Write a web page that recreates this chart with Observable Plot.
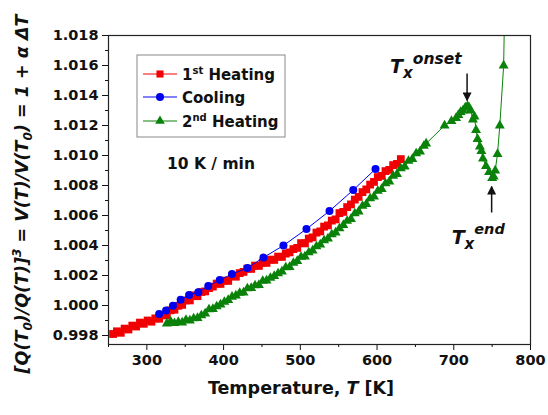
<!DOCTYPE html>
<html><head><meta charset="utf-8">
<script src="https://cdn.jsdelivr.net/npm/d3@7"></script>
<script src="https://cdn.jsdelivr.net/npm/@observablehq/plot@0.6"></script>
<style>body{margin:0;background:#fff}</style>
</head><body><div id="chart"></div>
<script>
// ---- data ----
const heat1T = [256,261,266,271,276,281,286,291,296,301,306,311,316,321,326,331,336,341,346,351,356,361,366,371,376,381,386,391,396,401,406,411,416,421,426,431,436,441,446,451,456,461,466,471,476,481,486,491,496,501,506,511,516,521,526,531,536,541,546,551,556,561,566,571,576,581,586,591,596,601,606,611,616,621,626,631];
const heat1V = [0.99810,0.99828,0.99818,0.99846,0.99840,0.99866,0.99860,0.99886,0.99878,0.99900,0.99892,0.99914,0.99912,0.99938,0.99934,0.99968,0.99972,0.99998,1.00004,1.00034,1.00034,1.00068,1.00062,1.00090,1.00094,1.00116,1.00126,1.00146,1.00144,1.00166,1.00164,1.00196,1.00192,1.00216,1.00224,1.00246,1.00244,1.00266,1.00264,1.00286,1.00284,1.00306,1.00304,1.00326,1.00324,1.00346,1.00354,1.00376,1.00384,1.00416,1.00414,1.00446,1.00454,1.00486,1.00494,1.00526,1.00534,1.00566,1.00574,1.00616,1.00624,1.00656,1.00674,1.00706,1.00724,1.00756,1.00774,1.00806,1.00824,1.00856,1.00864,1.00896,1.00904,1.00936,1.00944,1.00976];

const coolT = [316,325,334,344,355,367,380,395,411,431,452,478,508,538,569,598];
const coolV = [0.99944,0.99966,0.99999,1.00039,1.00070,1.00088,1.00130,1.00170,1.00210,1.00250,1.00320,1.00400,1.00510,1.00630,1.00770,1.00910];

const heat2T = [326,331,336,341,346,351,356,361,366,371,376,381,386,391,396,401,406,411,416,421,426,431,436,441,446,451,456,461,466,471,476,481,486,491,496,501,506,511,516,521,526,531,536,541,546,551,556,561,566,571,576,581,586,591,596,601,606,611,616,621,626,631,636,641,646,651,656,661,664,688,697,703,706,709,712,715,718,720,722,725,727,729,731,734,736,738,742,746,750,752,754,757,760,765,768];
const heat2V = [0.99880,0.99894,0.99882,0.99890,0.99886,0.99904,0.99900,0.99914,0.99916,0.99934,0.99946,0.99974,0.99976,0.99994,1.00006,1.00024,1.00036,1.00058,1.00066,1.00084,1.00086,1.00114,1.00116,1.00134,1.00136,1.00164,1.00166,1.00184,1.00196,1.00214,1.00226,1.00254,1.00256,1.00284,1.00296,1.00324,1.00326,1.00354,1.00366,1.00394,1.00406,1.00434,1.00446,1.00474,1.00486,1.00514,1.00536,1.00564,1.00576,1.00614,1.00626,1.00664,1.00676,1.00714,1.00726,1.00764,1.00776,1.00814,1.00826,1.00864,1.00876,1.00914,1.00926,1.00964,1.00976,1.01014,1.01026,1.01064,1.01080,1.01200,1.01230,1.01250,1.01270,1.01290,1.01300,1.01320,1.01330,1.01320,1.01300,1.01240,1.01260,1.01170,1.01110,1.01060,1.01030,1.00980,1.00930,1.00890,1.00850,1.00860,1.00900,1.01010,1.01200,1.01600,1.02500];

const xTicks = [300,400,500,600,700,800];
const xMinor = [250,350,450,550,650,750];
const yTicks = [0.998,1.000,1.002,1.004,1.006,1.008,1.010,1.012,1.014,1.016,1.018];
const yMinor = [0.999,1.001,1.003,1.005,1.007,1.009,1.011,1.013,1.015,1.017];

const seriesNames = ["1st Heating","Cooling","2nd Heating"];
const colors = ["#f00000","#0000f0","#0a820a"];
const onsetT = 718, onsetV = 1.0133;
const endT = 750, endV = 1.0085;

const heat1 = heat1T.map((t,i)=>({T:t,V:heat1V[i]}));
const cool = coolT.map((t,i)=>({T:t,V:coolV[i]}));
const heat2 = heat2T.map((t,i)=>({T:t,V:heat2V[i]}));

const FONT = "DejaVu Sans";
const R = {sq: 4.4, ci: 4.0, tr: 3.7};
const plot = Plot.plot({
  width: 548, height: 415,
  marginLeft: 108, marginRight: 18, marginTop: 35, marginBottom: 71,
  style: {fontFamily: FONT, fontWeight: "bold", fontSize: "14.5px", color: "#111", background: "#fff"},
  x: {domain: [250, 800], label: null},
  y: {domain: [0.9974, 1.018], label: null},
  marks: [
    Plot.axisX(xTicks, {tickSize: 6, tickPadding: 4, label: null, tickFormat: d => String(d)}),
    Plot.axisX(xMinor, {tickSize: 3, fill: "none", label: null}),
    Plot.axisY(yTicks, {tickSize: 6, tickPadding: 4, label: null, tickFormat: d3.format(".3f")}),
    Plot.axisY(yMinor, {tickSize: 3, fill: "none", label: null}),
    Plot.line(heat1, {x: "T", y: "V", stroke: colors[0], strokeWidth: 1, clip: true}),
    Plot.dot(heat1, {x: "T", y: "V", symbol: "square", r: R.sq, fill: colors[0], clip: true}),
    Plot.line(heat2, {x: "T", y: "V", stroke: colors[2], strokeWidth: 1, clip: true}),
    Plot.dot(heat2, {x: "T", y: "V", symbol: "triangle", r: R.tr, fill: colors[2], clip: true}),
    Plot.line(cool, {x: "T", y: "V", stroke: colors[1], strokeWidth: 1, clip: true}),
    Plot.dot(cool, {x: "T", y: "V", symbol: "circle", r: R.ci, fill: colors[1], clip: true}),
    Plot.frame({stroke: "#222", strokeWidth: 1.2})
  ]
});
document.getElementById("chart").append(plot);

const svg = d3.select(plot);
const xs = plot.scale("x"), ys = plot.scale("y");
const X = v => xs.apply(v), Y = v => ys.apply(v);

svg.append("defs").append("marker")
  .attr("id","ah").attr("viewBox","0 0 10 10").attr("refX",9).attr("refY",5)
  .attr("markerWidth",6).attr("markerHeight",6).attr("orient","auto-start-reverse")
  .append("path").attr("d","M0,0L10,5L0,10z").attr("fill","#111");

// axis titles
const xl = svg.append("text").attr("x", 301).attr("y", 394).attr("text-anchor","middle")
  .attr("font-family", FONT).attr("font-weight","bold").attr("font-size", 17.5).attr("fill","#111");
xl.append("tspan").text("Temperature, ");
xl.append("tspan").attr("font-style","italic").text("T");
xl.append("tspan").text(" [K]");

const yl = svg.append("text").attr("transform","translate(28,194) rotate(-90)").attr("text-anchor","middle")
  .attr("font-family", FONT).attr("font-weight","bold").attr("font-style","italic").attr("font-size", 17.5).attr("fill","#111");
yl.append("tspan").text("[Q(T");
yl.append("tspan").attr("font-size",12).attr("dy",4).text("0");
yl.append("tspan").attr("dy",-4).text(")/Q(T)]");
yl.append("tspan").attr("font-size",12).attr("dy",-7).text("3");
yl.append("tspan").attr("dy",7).text(" = V(T)/V(T");
yl.append("tspan").attr("font-size",12).attr("dy",4).text("0");
yl.append("tspan").attr("dy",-4).text(") = 1 + α ΔT");

// rate label
svg.append("text").attr("x",167).attr("y",169).attr("text-anchor","start").attr("font-family",FONT).attr("font-weight","bold")
  .attr("font-size",15.5).attr("fill","#111").text("10 K / min");

// legend
const lg = svg.append("g").attr("text-anchor","start");
lg.append("rect").attr("x",137).attr("y",55).attr("width",148).attr("height",82)
  .attr("fill","#fff").attr("stroke","#888").attr("stroke-width",1);
const rowsY = [74, 97, 121];
const sym = [d3.symbolSquare, d3.symbolCircle, d3.symbolTriangle];
const sizes = [4.0, 4.0, 3.6];
seriesNames.forEach((name,i)=>{
  const yy = rowsY[i];
  lg.append("line").attr("x1",143).attr("x2",177).attr("y1",yy).attr("y2",yy).attr("stroke",colors[i]).attr("stroke-width",1);
  lg.append("path").attr("transform",`translate(160,${yy})`)
    .attr("d", d3.symbol(sym[i], Math.PI*sizes[i]*sizes[i])()).attr("fill",colors[i]);
  const t = lg.append("text").attr("x",182).attr("y",yy+5.5).attr("font-family",FONT).attr("font-weight","bold")
    .attr("font-size",15).attr("fill","#111");
  if (i === 1) { t.text(name); }
  else {
    const parts = name.split(" ");
    t.append("tspan").text(parts[0].slice(0,1));
    t.append("tspan").attr("font-size",10).attr("dy",-6).text(parts[0].slice(1));
    t.append("tspan").attr("dy",6).text(" " + parts[1]);
  }
});

// onset annotation
const ox = X(onsetT), oy = Y(onsetV);
svg.append("line").attr("x1",ox).attr("x2",ox).attr("y1",oy-32).attr("y2",oy-5)
  .attr("stroke","#111").attr("stroke-width",1.5).attr("marker-end","url(#ah)");
const on = svg.append("text").attr("x",ox-77).attr("y",oy-33).attr("text-anchor","start").attr("font-family",FONT).attr("font-weight","bold")
  .attr("font-style","italic").attr("fill","#111");
on.append("tspan").attr("font-size",19).text("T");
on.append("tspan").attr("font-size",15).attr("dy",5).text("x");
on.append("tspan").attr("font-size",15.5).attr("dy",-14).text("onset");

// end annotation
const ex = X(endT), ey = Y(endV);
svg.append("line").attr("x1",ex).attr("x2",ex).attr("y1",ey+35).attr("y2",ey+9)
  .attr("stroke","#111").attr("stroke-width",1.5).attr("marker-end","url(#ah)");
const en = svg.append("text").attr("x",ex-40).attr("y",ey+66).attr("text-anchor","start").attr("font-family",FONT).attr("font-weight","bold")
  .attr("font-style","italic").attr("fill","#111");
en.append("tspan").attr("font-size",19).text("T");
en.append("tspan").attr("font-size",15).attr("dy",5).text("x");
en.append("tspan").attr("font-size",14.5).attr("dy",-15).text("end");
</script></body></html>
